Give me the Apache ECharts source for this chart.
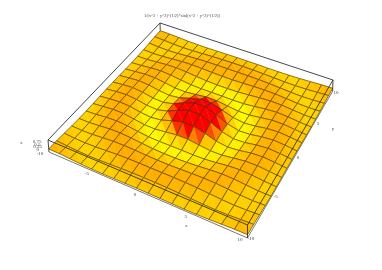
<!DOCTYPE html>
<html><head><meta charset="utf-8">
<style>html,body{margin:0;padding:0;background:#fff}#c{width:382px;height:270px;filter:blur(.35px)}</style>
<script src="https://cdn.jsdelivr.net/npm/echarts@6/dist/echarts.min.js"></script></head>
<body><div id="c"></div><script>
const titleText='1/(x^2 + y^2)^(1/2)*sin((x^2 + y^2)^(1/2))';
const gridX=[-10,-8.824,-7.647,-6.471,-5.294,-4.118,-2.941,-1.765,-0.588,0.588,1.765,2.941,4.118,5.294,6.471,7.647,8.824,10];
const gridY=[-10,-8.824,-7.647,-6.471,-5.294,-4.118,-2.941,-1.765,-0.588,0.588,1.765,2.941,4.118,5.294,6.471,7.647,8.824,10];
const zValues=[
[.071,.052,.002,-.051,-.084,-.091,-.081,-.066,-.056,-.056,-.066,-.081,-.091,-.084,-.051,.002,.052,.071],
[.052,-.007,-.066,-.091,-.074,-.032,.013,.046,.062,.062,.046,.013,-.032,-.074,-.091,-.066,-.007,.052],
[.002,-.066,-.091,-.056,.013,.078,.115,.127,.128,.128,.127,.115,.078,.013,-.056,-.091,-.066,.002],
[-.051,-.091,-.056,.030,.105,.128,.103,.061,.033,.033,.061,.103,.128,.105,.030,-.056,-.091,-.051],
[-.084,-.074,.013,.105,.125,.061,-.037,-.116,-.153,-.153,-.116,-.037,.061,.125,.105,.013,-.074,-.084],
[-.091,-.032,.078,.128,.061,-.076,-.186,-.217,-.205,-.205,-.217,-.186,-.076,.061,.128,.078,-.032,-.091],
[-.081,.013,.115,.103,-.037,-.186,-.205,-.083,.047,.047,-.083,-.205,-.186,-.037,.103,.115,.013,-.081],
[-.066,.046,.127,.061,-.116,-.217,-.083,.241,.515,.515,.241,-.083,-.217,-.116,.061,.127,.046,-.066],
[-.056,.062,.128,.033,-.153,-.205,.047,.515,.888,.888,.515,.047,-.205,-.153,.033,.128,.062,-.056],
[-.056,.062,.128,.033,-.153,-.205,.047,.515,.888,.888,.515,.047,-.205,-.153,.033,.128,.062,-.056],
[-.066,.046,.127,.061,-.116,-.217,-.083,.241,.515,.515,.241,-.083,-.217,-.116,.061,.127,.046,-.066],
[-.081,.013,.115,.103,-.037,-.186,-.205,-.083,.047,.047,-.083,-.205,-.186,-.037,.103,.115,.013,-.081],
[-.091,-.032,.078,.128,.061,-.076,-.186,-.217,-.205,-.205,-.217,-.186,-.076,.061,.128,.078,-.032,-.091],
[-.084,-.074,.013,.105,.125,.061,-.037,-.116,-.153,-.153,-.116,-.037,.061,.125,.105,.013,-.074,-.084],
[-.051,-.091,-.056,.030,.105,.128,.103,.061,.033,.033,.061,.103,.128,.105,.030,-.056,-.091,-.051],
[.002,-.066,-.091,-.056,.013,.078,.115,.127,.128,.128,.127,.115,.078,.013,-.056,-.091,-.066,.002],
[.052,-.007,-.066,-.091,-.074,-.032,.013,.046,.062,.062,.046,.013,-.032,-.074,-.091,-.066,-.007,.052],
[.071,.052,.002,-.051,-.084,-.091,-.081,-.066,-.056,-.056,-.066,-.081,-.091,-.084,-.051,.002,.052,.071]
];
const xTicks=[-10,-5,0,5,10];
const yTicks=[-10,-5,0,5,10];
const zTicks=[0,0.25,0.5,0.75];
const xName='x',yName='y',zName='z';
const zMin=-0.217,zMax=0.888;
// colour ramp: surface height -> green channel of a yellow-to-red scale
const rampZ=[-0.217,-0.15,-0.07,0,0.086,0.127,0.2,0.3,0.36];
const rampG=[255,235,208,195,178,170,85,30,0];
// perspective camera fitted to the box
const cam=[[171.96,145.31,1.25,48],[59.96,-112.21,12.78,140],[-0.11127,0.20817,0.0051,1]];
function P(x,y,z){const s=(x+10)/20,t=(y+10)/20,q=(zMax-z)/(zMax-zMin);
 const r=m=>m[0]*s+m[1]*t+m[2]*q+m[3];const w=r(cam[2]);return [r(cam[0])/w,r(cam[1])/w];}
function colorOf(z){let g=0;if(z<=rampZ[0])g=rampG[0];else if(z>=rampZ[rampZ.length-1])g=0;else for(let k=0;k<rampZ.length-1;k++)if(z<=rampZ[k+1]){g=rampG[k]+(rampG[k+1]-rampG[k])*(z-rampZ[k])/(rampZ[k+1]-rampZ[k]);break;}
 return 'rgb(255,'+Math.round(g)+',0)';}
const nx=gridX.length-1,ny=gridY.length-1;
const cells=[];for(let i=0;i<nx;i++)for(let j=ny-1;j>=0;j--)cells.push([i,j]);
const backEdges=[[-1,1,1,-1,1,0],[-1,1,1,1,1,1],[-1,-1,1,-1,1,1]];
const bottomEdges=[[-1,-1,0,1,-1,0],[1,-1,0,1,1,0]];
const frontEdges=[[-1,-1,1,1,-1,1],[1,-1,1,1,1,1],[-1,-1,0,-1,-1,1],[1,-1,0,1,-1,1],[1,1,0,1,1,1]];
const lineStyle={stroke:'#333',lineWidth:.9,fill:null};
function edgeSeries(list,style,z){return {type:'custom',coordinateSystem:'cartesian2d',clip:false,z,data:list,silent:true,
 renderItem(p,api){const v=[0,1,2,3,4,5].map(k=>api.value(k));
  const zz=f=>f?zMax:zMin;
  const a=api.coord(P(v[0]*10,v[1]*10,zz(v[2]))),b=api.coord(P(v[3]*10,v[4]*10,zz(v[5])));
  return {type:'line',shape:{x1:a[0],y1:a[1],x2:b[0],y2:b[1]},style};}};}
function textSeries(items){return {type:'custom',coordinateSystem:'cartesian2d',clip:false,z:6,data:items.map((o,k)=>[k]),silent:true,
 renderItem(p,api){const o=items[api.value(0)];const a=api.coord(P(o.at[0],o.at[1],o.at[2]));
  return {type:'text',style:{text:o.text,x:a[0]+o.dx,y:a[1]+o.dy,align:'center',verticalAlign:'middle',font:'5px "Liberation Serif"',fill:'#444'}};}};}
const labels=[];
xTicks.forEach((v,k)=>labels.push({text:String(v),at:[v,-10,zMin],dx:k==0?-9:-7.5,dy:2}));
yTicks.slice(0).forEach(v=>labels.push({text:String(v),at:[10,v,zMin],dx:3.5,dy:1}));
zTicks.forEach(v=>labels.push({text:String(v),at:[-10,-10,v],dx:-11,dy:0}));
labels.push({text:xName,at:[5,-10,zMin],dx:-7,dy:11.5});
labels.push({text:yName,at:[10,5,zMin],dx:18.5,dy:6.5});
labels.push({text:zName,at:[-10,-10,0.5],dx:-27,dy:-2});
const c=echarts.init(document.getElementById('c'));
c.setOption({animation:false,backgroundColor:'#fff',
 title:{text:titleText,left:144,top:14,padding:0,textStyle:{fontSize:4.4,fontWeight:'normal',color:'#444',fontFamily:'"Liberation Serif"'}},
 grid:{left:0,right:0,top:0,bottom:0},
 xAxis:{type:'value',min:0,max:382,show:false},
 yAxis:{type:'value',min:0,max:270,inverse:true,show:false},
 series:[
 edgeSeries(backEdges,lineStyle,1),
 edgeSeries(bottomEdges,{stroke:'#555',lineWidth:.8,fill:null},1),
 {type:'custom',data:cells,coordinateSystem:'cartesian2d',clip:false,z:2,silent:true,
 renderItem(p,api){const i=api.value(0),j=api.value(1);
  const Z=(a,b)=>zValues[b][a];
  const V=(a,b)=>api.coord(P(gridX[a],gridY[b],Z(a,b)));
  const p00=V(i,j),p10=V(i+1,j),p11=V(i+1,j+1),p01=V(i,j+1);
  const z1=(Z(i,j)+Z(i+1,j)+Z(i,j+1))/3,z2=(Z(i+1,j+1)+Z(i+1,j)+Z(i,j+1))/3;
  const c1=colorOf(z1),c2=colorOf(z2);
  return {type:'group',children:[
   {type:'polygon',shape:{points:[p00,p10,p01]},style:{fill:c1,stroke:c1,lineWidth:.4}},
   {type:'polygon',shape:{points:[p11,p01,p10]},style:{fill:c2,stroke:c2,lineWidth:.4}},
   {type:'polygon',shape:{points:[p00,p10,p11,p01]},style:{fill:null,stroke:'rgba(60,45,0,.72)',lineWidth:.8}}]};}},
 edgeSeries(frontEdges,lineStyle,4),
 textSeries(labels)]
});
</script></body></html>
